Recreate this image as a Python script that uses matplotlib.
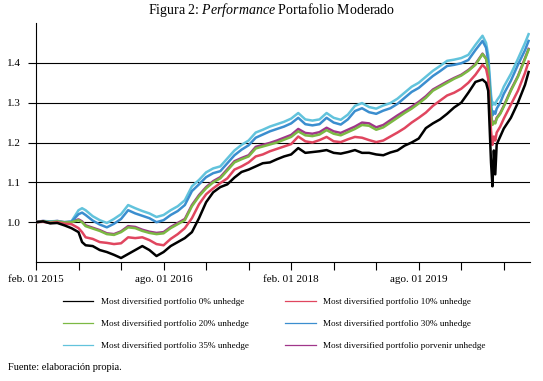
import matplotlib
matplotlib.use("Agg")
import matplotlib.pyplot as plt
from matplotlib.lines import Line2D

plt.rcParams["font.family"] = ["Liberation Serif", "DejaVu Serif"]
plt.rcParams["mathtext.fontset"] = "custom"
plt.rcParams["mathtext.rm"] = "Liberation Serif"
plt.rcParams["mathtext.it"] = "Liberation Serif:italic"

# months since feb. 01 2015
months = [0, 1, 2, 3, 4, 5, 6, 6.5] + list(range(7, 64)) + \
    [63.5, 63.8, 64.0, 64.2, 64.4, 64.6, 64.8, 65.0, 65.5, 66, 67, 68, 69, 69.5]

p0 = [1.000, 1.002, 0.997, 0.998, 0.992, 0.985, 0.975, 0.950,
      0.942, 0.940, 0.930, 0.925, 0.918, 0.910, 0.920, 0.930, 0.940, 0.930,
      0.915, 0.925, 0.940, 0.950, 0.960, 0.975, 1.010, 1.050, 1.075, 1.088,
      1.095, 1.112, 1.126, 1.132, 1.140, 1.148, 1.150, 1.158, 1.165, 1.170,
      1.186, 1.174, 1.176, 1.178, 1.181, 1.174, 1.172, 1.176, 1.181, 1.174,
      1.174, 1.170, 1.168, 1.175, 1.180, 1.192, 1.200, 1.210, 1.236, 1.248,
      1.258, 1.272, 1.288, 1.300, 1.325, 1.352, 1.358,
      1.350, 1.330, 1.240, 1.150, 1.090, 1.180, 1.120, 1.195, 1.215,
      1.235, 1.262, 1.300, 1.345, 1.377]

p10 = [1.000, 1.001, 0.998, 1.000, 0.996, 0.995, 0.985, 0.975,
       0.962, 0.958, 0.950, 0.948, 0.945, 0.947, 0.962, 0.960, 0.962, 0.955,
       0.945, 0.942, 0.958, 0.970, 0.985, 1.010, 1.045, 1.070, 1.085, 1.098,
       1.110, 1.132, 1.140, 1.150, 1.165, 1.170, 1.178, 1.184, 1.190, 1.196,
       1.215, 1.203, 1.200, 1.206, 1.214, 1.203, 1.201, 1.208, 1.214, 1.212,
       1.206, 1.201, 1.205, 1.215, 1.225, 1.236, 1.250, 1.262, 1.275, 1.292,
       1.305, 1.318, 1.325, 1.335, 1.350, 1.370, 1.395,
       1.385, 1.360, 1.290, 1.230, 1.194, 1.215, 1.205, 1.225, 1.240,
       1.260, 1.295, 1.330, 1.375, 1.403]

p20 = [1.000, 1.002, 1.000, 1.002, 0.999, 1.000, 1.005, 1.000,
       0.990, 0.984, 0.978, 0.970, 0.968, 0.975, 0.987, 0.985, 0.978, 0.973,
       0.970, 0.972, 0.985, 0.995, 1.005, 1.040, 1.065, 1.085, 1.100, 1.110,
       1.130, 1.150, 1.158, 1.165, 1.185, 1.190, 1.195, 1.200, 1.207, 1.214,
       1.228, 1.218, 1.216, 1.220, 1.231, 1.222, 1.218, 1.226, 1.234, 1.244,
       1.242, 1.232, 1.238, 1.250, 1.262, 1.274, 1.285, 1.298, 1.312, 1.330,
       1.340, 1.350, 1.360, 1.368, 1.380, 1.395, 1.422,
       1.410, 1.385, 1.320, 1.270, 1.244, 1.250, 1.248, 1.260, 1.272,
       1.290, 1.330, 1.365, 1.410, 1.433]

p30 = [1.000, 1.002, 1.001, 1.002, 0.999, 1.001, 1.020, 1.024,
       1.018, 1.004, 0.994, 0.987, 0.996, 1.008, 1.030, 1.022, 1.016, 1.010,
       1.000, 1.005, 1.018, 1.028, 1.043, 1.078, 1.095, 1.113, 1.123, 1.128,
       1.148, 1.168, 1.182, 1.193, 1.212, 1.220, 1.228, 1.234, 1.240, 1.248,
       1.262, 1.246, 1.243, 1.246, 1.262, 1.250, 1.245, 1.258, 1.279, 1.286,
       1.276, 1.272, 1.280, 1.286, 1.297, 1.312, 1.327, 1.337, 1.352, 1.367,
       1.379, 1.392, 1.395, 1.399, 1.407, 1.432, 1.455,
       1.438, 1.405, 1.350, 1.295, 1.268, 1.278, 1.272, 1.285, 1.300,
       1.322, 1.355, 1.395, 1.432, 1.455]

p35 = [1.000, 1.003, 1.002, 1.003, 1.000, 1.002, 1.030, 1.035,
       1.030, 1.015, 1.005, 0.998, 1.008, 1.020, 1.043, 1.035, 1.028, 1.022,
       1.013, 1.018, 1.030, 1.040, 1.055, 1.090, 1.106, 1.125, 1.135, 1.140,
       1.160, 1.180, 1.194, 1.205, 1.225, 1.232, 1.240, 1.246, 1.252, 1.260,
       1.274, 1.258, 1.255, 1.258, 1.274, 1.262, 1.257, 1.270, 1.292, 1.299,
       1.289, 1.285, 1.293, 1.299, 1.310, 1.325, 1.340, 1.350, 1.365, 1.380,
       1.392, 1.405, 1.408, 1.412, 1.420, 1.445, 1.468,
       1.450, 1.420, 1.370, 1.320, 1.294, 1.300, 1.295, 1.305, 1.318,
       1.340, 1.372, 1.410, 1.450, 1.472]

porvenir = [1.001, 1.003, 1.001, 1.003, 1.000, 1.001, 1.007, 1.002,
            0.992, 0.986, 0.980, 0.972, 0.970, 0.977, 0.990, 0.988, 0.981, 0.976,
            0.973, 0.975, 0.988, 0.998, 1.008, 1.043, 1.068, 1.088, 1.103, 1.113,
            1.133, 1.153, 1.161, 1.168, 1.189, 1.194, 1.199, 1.205, 1.212, 1.219,
            1.234, 1.224, 1.222, 1.226, 1.237, 1.228, 1.224, 1.232, 1.240, 1.250,
            1.248, 1.238, 1.244, 1.256, 1.268, 1.279, 1.290, 1.302, 1.316, 1.333,
            1.343, 1.353, 1.362, 1.370, 1.382, 1.397, 1.423,
            1.411, 1.386, 1.322, 1.272, 1.246, 1.252, 1.250, 1.262, 1.274,
            1.292, 1.332, 1.367, 1.412, 1.435]

names = ["Most diversified portfolio 0% unhedge",
         "Most diversified portfolio 10% unhedge",
         "Most diversified portfolio 20% unhedge",
         "Most diversified portfolio 30% unhedge",
         "Most diversified portfolio 35% unhedge",
         "Most diversified portfolio porvenir unhedge"]
colors = ["#000000", "#e0465f", "#7cb944", "#3b8ecf", "#62c3dc", "#a0368a"]

tick_pos = [0, 18, 36, 54]
tick_lab = ["feb. 01 2015", "ago. 01 2016", "feb. 01 2018", "ago. 01 2019"]
minor_pos = [6, 12, 24, 30, 42, 48, 60, 66]

fig = plt.figure(figsize=(5.43, 3.81), dpi=100)
ax = fig.add_axes([36 / 543, 119 / 381, 494 / 543, 239 / 381])

series = [p0, p10, p20, p30, p35, porvenir]
# draw order: porvenir underneath, black last
for i in [5, 4, 3, 2, 1, 0]:
    ax.plot(months, series[i], color=colors[i], lw=1.8, zorder=3 + (5 - i) * 0.1)

ax.set_xlim(0, 69.7)
ax.set_ylim(0.9, 1.5)
ax.set_yticks([1.0, 1.1, 1.2, 1.3, 1.4])
ax.set_yticklabels(["1.0", "1.1", "1.2", "1.3", "1.4"])
ax.set_xticks(tick_pos)
ax.set_xticklabels(tick_lab)
ax.set_xticks(minor_pos, minor=True)
ax.grid(axis="y", color="black", lw=0.8)
ax.set_axisbelow(True)
for s in ["top", "right"]:
    ax.spines[s].set_visible(False)
for s in ["left", "bottom"]:
    ax.spines[s].set_linewidth(0.8)
ax.tick_params(axis="y", length=5.8, width=0.8, pad=5, labelsize=8)
ax.tick_params(axis="x", which="both", length=5.5, width=0.8, pad=4, labelsize=8)

fig.text(0.5, 1 - 10 / 381, r"Figura 2: $\mathit{Performance}$ Portafolio Moderado",
         ha="center", va="center", fontsize=10)

handles = [Line2D([], [], color=colors[i], lw=0.9) for i in [0, 2, 4, 1, 3, 5]]
labels = [names[i] for i in [0, 2, 4, 1, 3, 5]]
fig.legend(handles, labels, loc="upper left", bbox_to_anchor=(63 / 543, 1 - 298 / 381),
           ncol=2, frameon=False, fontsize=6.6, borderpad=0, borderaxespad=0,
           handlelength=3.3, handletextpad=0.8, labelspacing=1.45, columnspacing=4.0)

fig.text(8 / 543, 1 - 368 / 381, "Fuente: elaboración propia.", ha="left", va="center",
         fontsize=7.5)

fig.savefig("out.png", dpi=100)
